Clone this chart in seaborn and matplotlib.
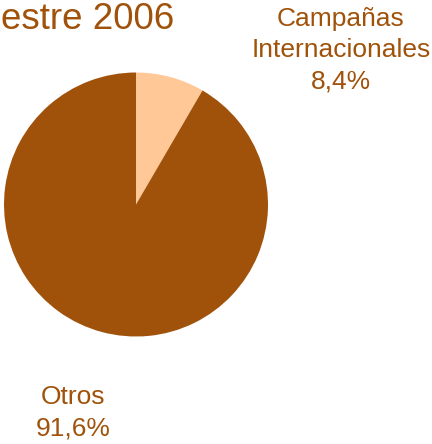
import matplotlib
matplotlib.use("Agg")
import matplotlib.pyplot as plt
import seaborn as sns

labels = ["Campañas\nInternacionales", "Otros"]
values = [8.4, 91.6]
pct_labels = ["8,4%", "91,6%"]
title = "estre 2006"

sns.set_theme(style="white")
plt.rcParams["font.family"] = ["Liberation Sans", "DejaVu Sans"]

dark = "#A0520A"
light = "#FFC896"
colors = [light, dark]

fig = plt.figure(figsize=(4.32, 4.44), dpi=100)
fig.patch.set_facecolor("white")
ax = fig.add_axes([4 / 432, 107.5 / 444, 264 / 432, 264 / 444])
ax.pie(values, colors=colors, startangle=90, counterclock=False,
       wedgeprops=dict(linewidth=0))
ax.set_xlim(-1, 1)
ax.set_ylim(-1, 1)
ax.set_aspect("equal")
ax.axis("off")

txt = dict(color=dark, fontsize=19, ha="center", va="center", linespacing=1.38)
fig.text(341 / 432, 1 - 50 / 444, f"{labels[0]}\n{pct_labels[0]}", **txt)
fig.text(73 / 432, 1 - 413 / 444, f"{labels[1]}\n{pct_labels[1]}", **txt)
fig.text(1 / 432, 1 - 19.5 / 444, title, color=dark, fontsize=26.5, ha="left", va="center")

fig.savefig("out.png", dpi=100, facecolor="white")
